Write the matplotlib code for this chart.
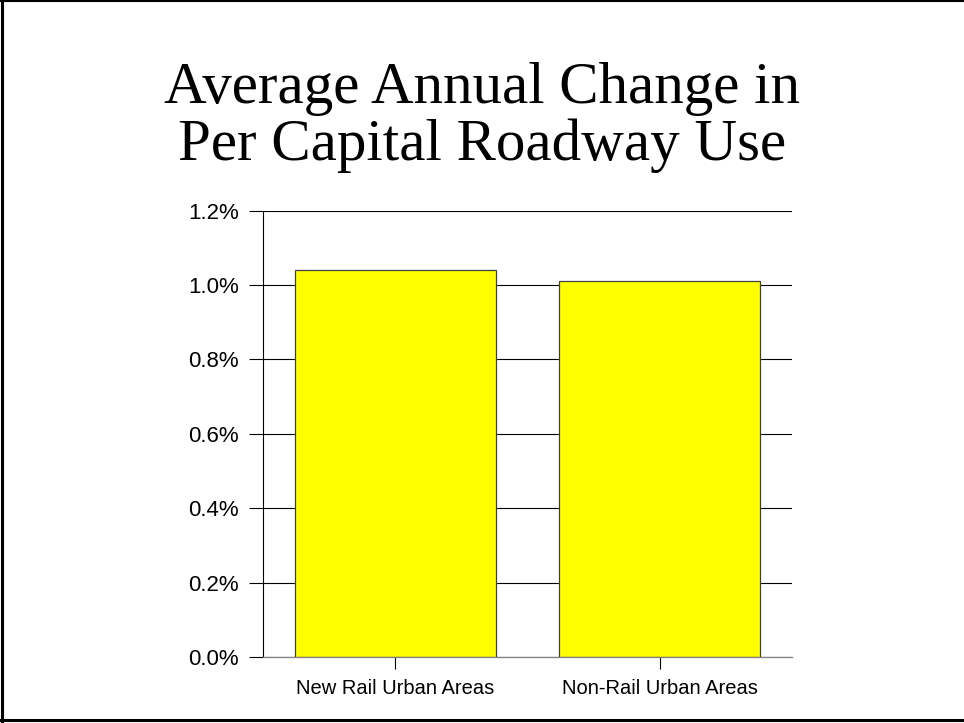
import matplotlib
matplotlib.use('Agg')
import matplotlib.pyplot as plt
from matplotlib.lines import Line2D
from matplotlib.ticker import FuncFormatter

# data
categories = ['New Rail Urban Areas', 'Non-Rail Urban Areas']
values = [1.04, 1.01]  # average annual change, %
yticks = [0.0, 0.2, 0.4, 0.6, 0.8, 1.0, 1.2]
title_lines = ['Average Annual Change in', 'Per Capital Roadway Use']

plt.rcParams['font.family'] = ['Liberation Sans', 'DejaVu Sans']

fig = plt.figure(figsize=(9.64, 7.23), dpi=100, facecolor='white')
ax = fig.add_axes([0.2731, 0.0913, 0.5485, 0.6173])

x = range(len(categories))
ax.bar(x, values, width=0.76, color='#ffff00', edgecolor='#404040',
       linewidth=0.9, zorder=2)

ax.set_xlim(-0.5, len(categories) - 0.5)
ax.set_ylim(0, 1.2)
ax.set_yticks(yticks)
ax.yaxis.set_major_formatter(FuncFormatter(lambda v, p: f'{v:.1f}%'))
ax.set_xticks(list(x))
ax.set_xticklabels(categories)

ax.set_axisbelow(True)
ax.yaxis.grid(True, color='black', linewidth=0.8)

for s in ['top', 'right']:
    ax.spines[s].set_visible(False)
ax.spines['left'].set_color('black')
ax.spines['left'].set_linewidth(0.8)
ax.spines['bottom'].set_color('#808080')
ax.spines['bottom'].set_linewidth(0.9)

ax.tick_params(axis='y', length=10.3, width=0.8, pad=7.5, labelsize=16,
               color='black')
ax.tick_params(axis='x', length=8.5, width=0.8, pad=7, labelsize=14.5,
               color='black')

# two-line serif title
fig.text(0.5, 1 - 103 / 723, title_lines[0], ha='center', va='baseline',
         family='Liberation Serif', fontsize=42.5)
fig.text(0.5, 1 - 160 / 723, title_lines[1], ha='center', va='baseline',
         family='Liberation Serif', fontsize=42.5)

# frame round the slide (left, top, bottom)
fig.add_artist(Line2D([1.5 / 964, 1.5 / 964], [0, 1], transform=fig.transFigure,
                      color='black', linewidth=2.2))
fig.add_artist(Line2D([0, 1], [1 - 1 / 723, 1 - 1 / 723], transform=fig.transFigure,
                      color='black', linewidth=1.5))
fig.add_artist(Line2D([0, 1], [1 - 720 / 723, 1 - 720 / 723], transform=fig.transFigure,
                      color='black', linewidth=2.2))

fig.savefig('out.png', dpi=100, facecolor='white')
